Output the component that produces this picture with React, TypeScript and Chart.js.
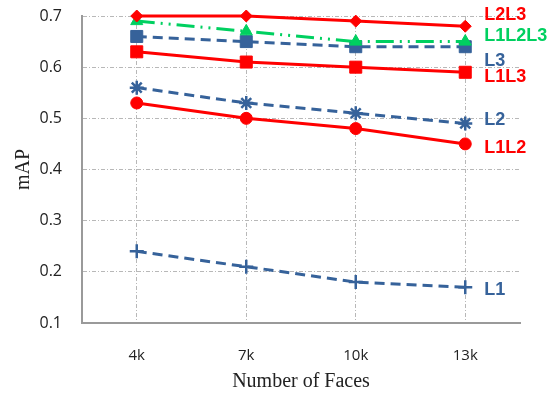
import React, { useEffect, useRef } from "react";
import { Chart, registerables } from "chart.js";
Chart.register(...registerables);

const categories = ["4k", "7k", "10k", "13k"];
const yTicks = [0.1, 0.2, 0.3, 0.4, 0.5, 0.6, 0.7];
const L2L3 = [0.70, 0.70, 0.69, 0.68];
const L1L2L3 = [0.69, 0.67, 0.65, 0.65];
const L3 = [0.66, 0.65, 0.64, 0.64];
const L1L3 = [0.63, 0.61, 0.60, 0.59];
const L2 = [0.56, 0.53, 0.51, 0.49];
const L1L2 = [0.53, 0.50, 0.48, 0.45];
const L1 = [0.24, 0.21, 0.18, 0.17];

const RED = "#ff0000";
const GREEN = "#00d060";
const BLUE = "#36629a";

// vertical offsets of the end labels relative to the last point (px)
const labelOffsets: Record<string, number> = {
  L2L3: -11, L1L2L3: -6, L3: 14, L1L3: 5, L2: -3, L1L2: 4, L1: 3,
};

const endLabels = {
  id: "endLabels",
  afterDatasetsDraw(chart: any) {
    const ctx = chart.ctx;
    ctx.save();
    ctx.font = "bold 18px 'Liberation Sans', Arial, sans-serif";
    ctx.textBaseline = "middle";
    ctx.textAlign = "left";
    chart.data.datasets.forEach((ds: any, i: number) => {
      const meta = chart.getDatasetMeta(i);
      const pt = meta.data[meta.data.length - 1];
      ctx.fillStyle = ds.borderColor;
      ctx.fillText(ds.label, pt.x + 19, pt.y + (labelOffsets[ds.label] || 0));
    });
    ctx.restore();
  },
};

export default function App() {
  const ref = useRef<HTMLCanvasElement>(null);
  useEffect(() => {
    document.body.style.margin = "0";
    const mk = (label: string, data: number[], color: string, style: string, radius: number, dash: number[], bw = 3) => ({
      label, data, borderColor: color, backgroundColor: color, pointStyle: style,
      pointRadius: radius, pointBorderWidth: style === "star" || style === "cross" ? 2.5 : 1,
      pointBorderColor: color, borderWidth: bw, borderDash: dash, tension: 0, clip: false,
    });
    const gridDash = [4, 2, 1, 2];
    const chart = new Chart(ref.current!, {
      type: "line",
      data: {
        labels: categories,
        datasets: [
          mk("L2L3", L2L3, RED, "rectRot", 6, []),
          mk("L1L2L3", L1L2L3, GREEN, "triangle", 7, [18, 6, 2, 6, 2, 6]),
          mk("L3", L3, BLUE, "rect", 8.5, [10, 6]),
          mk("L1L3", L1L3, RED, "rect", 8.5, []),
          mk("L2", L2, BLUE, "star", 7, [10, 6]),
          mk("L1L2", L1L2, RED, "circle", 6, []),
          mk("L1", L1, BLUE, "cross", 7, [10, 6]),
        ] as any,
      },
      options: {
        animation: false,
        responsive: false,
        layout: { padding: { top: 16, right: 30, bottom: 0, left: 0 } },
        plugins: { legend: { display: false }, tooltip: { enabled: false } },
        scales: {
          x: {
            offset: true,
            grid: { offset: false, drawTicks: false, color: "#b8b8b8", lineWidth: 1 } as any,
            border: { display: true, color: "#9a9a9a", width: 2, dash: gridDash } as any,
            ticks: { font: { family: "'Open Sans', Arial, sans-serif", size: 15 }, color: "#222", padding: 24 },
            title: {
              display: true, text: "Number of Faces",
              font: { family: "'Liberation Serif', 'Times New Roman', serif", size: 20 }, color: "#222",
              padding: { top: 2, bottom: 0 },
            },
            afterFit(scale: any) { scale.height = 71; scale.paddingLeft = 0; scale.paddingRight = 0; },
          },
          y: {
            min: 0.1, max: 0.7,
            afterBuildTicks(scale: any) { scale.ticks = yTicks.map((v) => ({ value: v })); },
            grid: { drawTicks: false, color: "#b8b8b8", lineWidth: 1 },
            border: { display: true, color: "#9a9a9a", width: 2, dash: gridDash } as any,
            ticks: {
              font: { family: "'Open Sans', Arial, sans-serif", size: 16 }, color: "#222", padding: 20,
              callback: (v: any) => Number(v).toFixed(1),
            },
            title: {
              display: true, text: "mAP",
              font: { family: "'Liberation Serif', 'Times New Roman', serif", size: 20 }, color: "#222",
              padding: { top: 12, bottom: 0 },
            },
            afterFit(scale: any) { scale.width = 82; scale.paddingTop = 0; scale.paddingBottom = 0; },
          },
        },
      },
      plugins: [endLabels],
    } as any);
    return () => chart.destroy();
  }, []);
  return <canvas ref={ref} width={550} height={394} />;
}
